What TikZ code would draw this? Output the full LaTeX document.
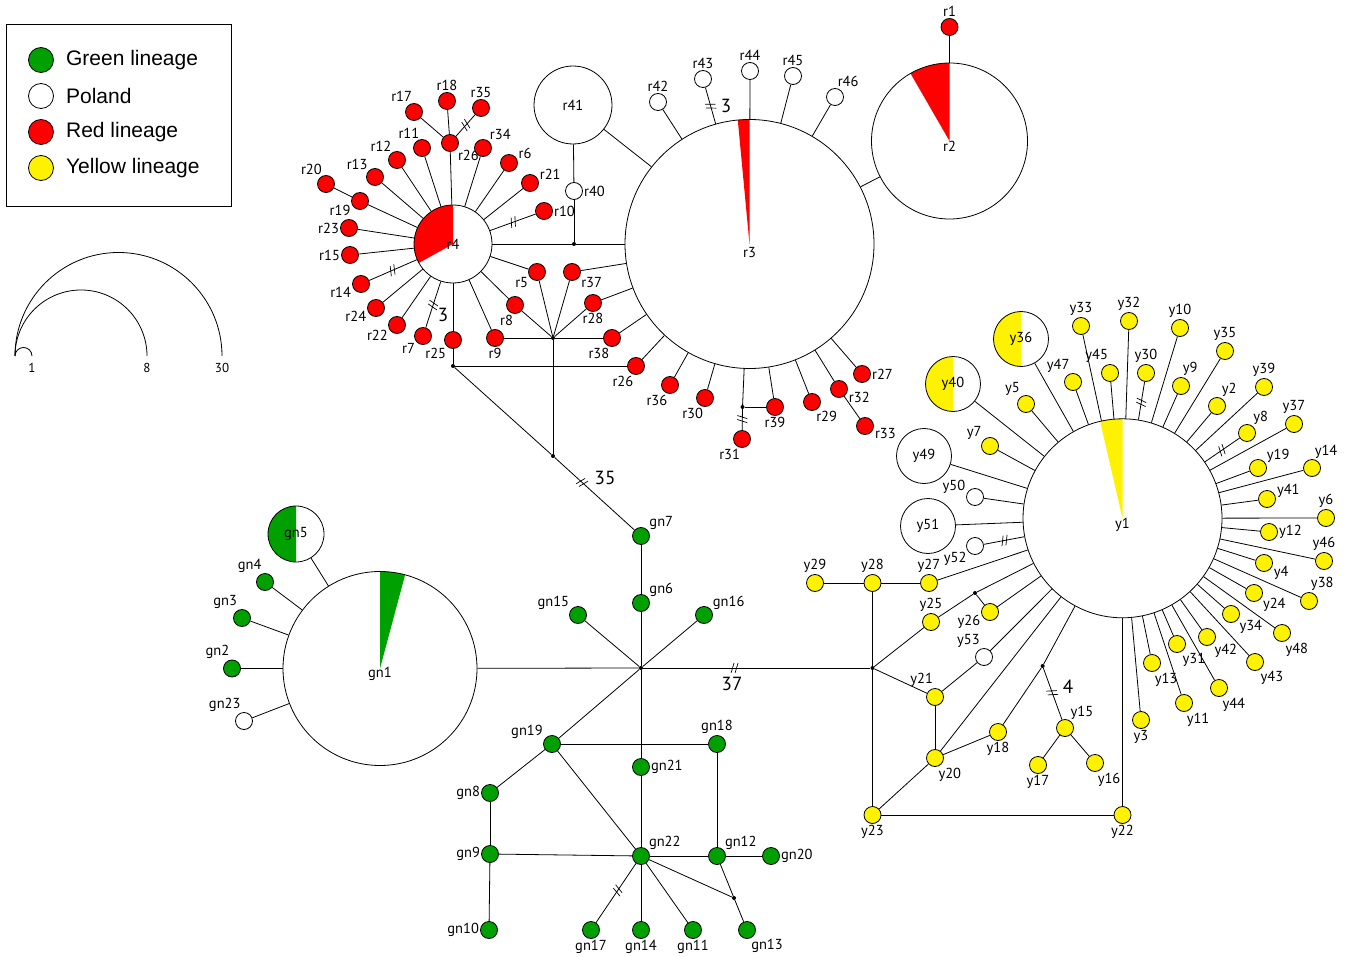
\documentclass[tikz,border=0pt]{standalone}
\usepackage{fontspec}
\setmainfont{PT Sans}
\newfontfamily\legfont{Liberation Sans}
\usetikzlibrary{decorations.markings}
\definecolor{lgreen}{RGB}{0,160,0}
\newcommand\lblfont{\fontsize{14.5}{14.5}\selectfont}
\tikzset{
	hap/.style={circle, draw, line width=0.8pt, inner sep=0pt, minimum size=17pt, fill=white, font=\lblfont},
	rhap/.style={hap, fill=red},
	ghap/.style={hap, fill=lgreen},
	yhap/.style={hap, fill=yellow},
	bighap/.style={hap, minimum size=#1},
	pie/.style 2 args={path picture={\fill[#2] (path picture bounding box.center) -- +(90:400pt) -- +({(90+#1)/2}:400pt) -- +(#1:400pt) -- cycle;}},
	lbl/.style={font=\lblfont, inner sep=1pt},
	dot/.style={circle, fill=black, inner sep=0pt, minimum size=4pt},
	num/.style={font=\fontsize{19}{19}\selectfont, inner sep=0pt},
	legc/.style={hap, minimum size=25pt},
	legtxt/.style={font=\legfont\fontsize{21}{21}\selectfont, inner sep=0pt, xshift=12pt},
	slashes/.style={postaction={decorate, decoration={markings, mark=at position #1 with {\draw[line width=0.7pt] (-3pt,-5pt) -- (0pt,5pt) (1pt,-5pt) -- (4pt,5pt);}}}},
	link/.style={draw=black, line width=0.8pt}
}
\begin{document}
\begin{tikzpicture}[x=1pt, y=-1pt]
	\useasboundingbox (0,0) rectangle (1346,957);

	% legend
	\node[draw, line width=0.8pt, minimum width=225pt, minimum height=182pt] (legbox) at (118.5,115) {};
	\node[legc, fill=lgreen, label={[legtxt]0:Green lineage}] (legG) at (41,60) {};
	\node[legc, label={[legtxt]0:Poland}] (legP) at (41,96) {};
	\node[legc, fill=red, label={[legtxt]0:Red lineage}] (legR) at (41,132) {};
	\node[legc, fill=yellow, label={[legtxt]0:Yellow lineage}] (legY) at (41,168) {};

	% size scale
	\coordinate (scl) at (15,356);
	\draw[line width=0.8pt] (scl) arc[start angle=180, end angle=0, radius=8.5pt];
	\draw[line width=0.8pt] (scl) arc[start angle=180, end angle=0, radius=66pt];
	\draw[line width=0.8pt] (scl) arc[start angle=180, end angle=0, radius=103.5pt];
	\node[font=\fontsize{13}{13}\selectfont] (s1) at (32,368) {1};
	\node[font=\fontsize{13}{13}\selectfont] (s8) at (147,368) {8};
	\node[font=\fontsize{13}{13}\selectfont] (s30) at (222,368) {30};

	% red lineage
	\node[bighap=78pt, pie={209}{red}] (r4) at (453,244) {r4};
	\node[bighap=78pt] (r41) at (573,105) {r41};
	\node[bighap=249pt, pie={95.4}{red}, label={[lbl,yshift=-9pt]center:r3}] (r3) at (749.5,244) {};
	\node[bighap=156pt, pie={120}{red}, label={[lbl,yshift=-5pt]center:r2}] (r2) at (949.5,141) {};
	\begin{scope}[every label/.style={lbl}]
		\node[rhap, label=95:r17] (r17) at (414,112) {};
		\node[rhap, label=90:r18] (r18) at (447,101) {};
		\node[rhap, label=90:r35] (r35) at (481,108) {};
		\node[rhap, label=-40:r26] (r26a) at (450,143) {};
		\node[rhap, label=100:r11] (r11) at (422,148) {};
		\node[rhap, label=120:r12] (r12) at (397,160) {};
		\node[rhap, label=135:r13] (r13) at (375,177) {};
		\node[rhap, label=110:r20] (r20) at (326,184) {};
		\node[rhap, label=200:r19] (r19) at (360,201) {};
		\node[rhap, label=180:r23] (r23) at (349,228) {};
		\node[rhap, label=180:r15] (r15) at (350,255) {};
		\node[rhap, label=190:r14] (r14) at (361,284) {};
		\node[rhap, label=195:r24] (r24) at (376,308) {};
		\node[rhap, label=205:r22] (r22) at (397,325) {};
		\node[rhap, label=220:r7] (r7) at (423,336) {};
		\node[rhap, label=230:r25] (r25) at (453,340) {};
		\node[rhap, label=270:r9] (r9) at (495,338) {};
		\node[rhap, label=265:r8] (r8) at (515,305) {};
		\node[rhap, label=210:r5] (r5) at (537,272) {};
		\node[rhap, label=-25:r37] (r37) at (572,272) {};
		\node[rhap, label=270:r28] (r28) at (593,303) {};
		\node[rhap, label=260:r38] (r38) at (612,338) {};
		\node[rhap, label=50:r34] (r34) at (483,148) {};
		\node[rhap, label=20:r6] (r6) at (509,163) {};
		\node[rhap, label=12:r21] (r21) at (530,183) {};
		\node[rhap, label=0:r10] (r10) at (544,211) {};
		\node[hap, label=0:r40] (r40) at (574,191) {};
		\node[rhap, label=260:r26] (r26b) at (636,366) {};
		\node[rhap, label=260:r36] (r36) at (670,385) {};
		\node[rhap, label=265:r30] (r30) at (705,398) {};
		\node[rhap, label=270:r39] (r39) at (775,407) {};
		\node[rhap, label=265:r31] (r31) at (742,439) {};
		\node[rhap, label=290:r29] (r29) at (812,402) {};
		\node[rhap, label=-10:r32] (r32) at (839,389) {};
		\node[rhap, label=-8:r33] (r33) at (865,426) {};
		\node[rhap, label=0:r27] (r27) at (862,374) {};
		\node[hap, label=90:r42] (r42) at (658,102) {};
		\node[hap, label=90:r43] (r43) at (703,79) {};
		\node[hap, label=90:r44] (r44) at (750,71) {};
		\node[hap, label=90:r45] (r45) at (793,76) {};
		\node[hap, label=80:r46] (r46) at (835,97) {};
		\node[rhap, label=90:r1] (r1) at (949.5,27) {};
	\end{scope}
	\node[dot] (jr40) at (574,244) {};
	\node[dot] (jr25) at (453,366) {};
	\node[dot] (jstar) at (553,338) {};
	\node[dot] (jmid) at (553,456) {};
	\node[dot] (jr31) at (742.5,407) {};

	% yellow lineage
	\node[bighap=199pt, pie={103}{yellow}, label={[lbl,yshift=-7pt]center:y1}] (y1) at (1122.5,518.3) {};
	\node[bighap=55pt, pie={270}{yellow}] (y36) at (1021,339) {y36};
	\node[bighap=55pt, pie={270}{yellow}] (y40) at (953,384) {y40};
	\node[bighap=55pt] (y49) at (924,456) {y49};
	\node[bighap=55pt] (y51) at (928,526) {y51};
	\begin{scope}[every label/.style={lbl}]
		\node[hap, label=165:y50] (y50) at (975,497) {};
		\node[hap, label=215:y52] (y52) at (975,546) {};
		\node[yhap, label=125:y5] (y5) at (1026,404) {};
		\node[yhap, label=145:y7] (y7) at (990,446) {};
		\node[yhap, label=105:y47] (y47) at (1073,382) {};
		\node[yhap, label=90:y33] (y33) at (1081,326) {};
		\node[yhap, label=95:y45] (y45) at (1110,373) {};
		\node[yhap, label=90:y32] (y32) at (1129,321) {};
		\node[yhap, label=90:y30] (y30) at (1146,373) {};
		\node[yhap, label=90:y10] (y10) at (1180,328) {};
		\node[yhap, label=85:y9] (y9) at (1181,386) {};
		\node[yhap, label=90:y35] (y35) at (1225,351) {};
		\node[yhap, label=65:y2] (y2) at (1217,406) {};
		\node[yhap, label=90:y39] (y39) at (1264,387) {};
		\node[yhap, label=55:y8] (y8) at (1247,433) {};
		\node[yhap, label=90:y37] (y37) at (1294,424) {};
		\node[yhap, label=30:y19] (y19) at (1258,468) {};
		\node[yhap, label=80:y14] (y14) at (1312,468) {};
		\node[yhap, label=5:y41] (y41) at (1267,499) {};
		\node[yhap, label=90:y6] (y6) at (1326,518) {};
		\node[yhap, label=0:y12] (y12) at (1269,532) {};
		\node[yhap, label=90:y46] (y46) at (1324,561) {};
		\node[yhap, label=-15:y4] (y4) at (1264,563) {};
		\node[yhap, label=-28:y24] (y24) at (1254,593) {};
		\node[yhap, label=85:y38] (y38) at (1309,601) {};
		\node[yhap, label=-35:y34] (y34) at (1231,614) {};
		\node[yhap, label=-75:y48] (y48) at (1282,633) {};
		\node[yhap, label=-45:y42] (y42) at (1207,637) {};
		\node[yhap, label=-60:y43] (y43) at (1255,662) {};
		\node[yhap, label=-60:y31] (y31) at (1177,644) {};
		\node[yhap, label=-75:y44] (y44) at (1219,688) {};
		\node[yhap, label=-80:y13] (y13) at (1152,663) {};
		\node[yhap, label=-80:y11] (y11) at (1184,703) {};
		\node[yhap, label=270:y3] (y3) at (1141,720) {};
		\node[yhap, label=90:y29] (y29) at (815,583) {};
		\node[yhap, label=90:y28] (y28) at (872.5,583) {};
		\node[yhap, label=90:y27] (y27) at (929,583) {};
		\node[yhap, label=90:y25] (y25) at (931,622) {};
		\node[yhap, label=195:y26] (y26) at (990,612) {};
		\node[hap, label=110:y53] (y53) at (984,657) {};
		\node[yhap, label=95:y21] (y21) at (935,697) {};
		\node[yhap, label=-75:y20] (y20) at (935,758) {};
		\node[yhap, label=270:y18] (y18) at (998,732) {};
		\node[yhap, label=60:y15] (y15) at (1065,728) {};
		\node[yhap, label=270:y17] (y17) at (1038,765) {};
		\node[yhap, label=-80:y16] (y16) at (1095,763) {};
		\node[yhap, label=270:y23] (y23) at (872.5,815) {};
		\node[yhap, label=270:y22] (y22) at (1122.5,815) {};
	\end{scope}
	\node[dot] (jy28) at (872.5,668) {};
	\node[dot] (jy25) at (975,593) {};
	\node[dot] (jy18) at (1042.6,666) {};

	% green lineage
	\node[bighap=194pt, pie={75}{lgreen}, label={[lbl,yshift=-5pt]center:gn1}] (gn1) at (380,668.5) {};
	\node[bighap=56pt, pie={270}{lgreen}] (gn5) at (296,534) {gn5};
	\begin{scope}[every label/.style={lbl}]
		\node[ghap, label=105:gn4] (gn4) at (265,582) {};
		\node[ghap, label=115:gn3] (gn3) at (242,618) {};
		\node[ghap, label=100:gn2] (gn2) at (232,668.5) {};
		\node[hap, label=105:gn23] (gn23) at (244,721) {};
		\node[ghap, label=35:gn7] (gn7) at (641,536) {};
		\node[ghap, label=35:gn6] (gn6) at (641,603) {};
		\node[ghap, label=150:gn15] (gn15) at (578,615) {};
		\node[ghap, label=30:gn16] (gn16) at (704,615) {};
		\node[ghap, label=155:gn19] (gn19) at (552,744) {};
		\node[ghap, label=90:gn18] (gn18) at (717,744) {};
		\node[ghap, label=0:gn21] (gn21) at (641,767) {};
		\node[ghap, label=180:gn8] (gn8) at (490,793) {};
		\node[ghap, label=180:gn9] (gn9) at (490,854) {};
		\node[ghap, label=40:gn22] (gn22) at (641,856) {};
		\node[ghap, label=40:gn12] (gn12) at (717,856) {};
		\node[ghap, label=0:gn20] (gn20) at (771,856) {};
		\node[ghap, label=180:gn10] (gn10) at (489,930) {};
		\node[ghap, label=270:gn17] (gn17) at (591,930) {};
		\node[ghap, label=270:gn14] (gn14) at (641,930) {};
		\node[ghap, label=270:gn11] (gn11) at (693,930) {};
		\node[ghap, label=-70:gn13] (gn13) at (747,930) {};
	\end{scope}
	\node[dot] (jg) at (641,668) {};
	\node[dot] (jg13) at (734,898) {};

	% mutation counts
	\node[num] (m3a) at (443,315) {3};
	\node[num] (m3b) at (726,106) {3};
	\node[num] (m35) at (605,478) {35};
	\node[num] (m37) at (732,684) {37};
	\node[num] (m4) at (1068,687) {4};

	\begin{scope}[every edge/.style={link}]
		% red
		\path (r17) edge (r26a);
		\path (r18) edge (r26a);
		\path (r26a) edge (r4);
		\path (r11) edge (r4);
		\path (r12) edge (r4);
		\path (r13) edge (r4);
		\path (r20) edge (r19);
		\path (r19) edge (r4);
		\path (r23) edge (r4);
		\path (r15) edge (r4);
		\path (r24) edge (r4);
		\path (r22) edge (r4);
		\path (r4) edge (r25);
		\path (r25) edge (jr25);
		\path (r4) edge (r9);
		\path (r4) edge (r8);
		\path (r4) edge (r5);
		\path (r34) edge (r4);
		\path (r6) edge (r4);
		\path (r21) edge (r4);
		\path (r4) edge (jr40);
		\path (jr40) edge (r3);
		\path (r41) edge (r40);
		\path (r40) edge (jr40);
		\path (r41) edge (r3);
		\path (r5) edge (jstar);
		\path (r8) edge (jstar);
		\path (r9) edge (jstar);
		\path (r37) edge (jstar);
		\path (r28) edge (jstar);
		\path (r38) edge (jstar);
		\path (r37) edge (r3);
		\path (r28) edge (r3);
		\path (r38) edge (r3);
		\path (jstar) edge (jmid);
		\path (jr25) edge (r26b);
		\path (r26b) edge (r3);
		\path (jr25) edge (jmid);
		\path (r36) edge (r3);
		\path (r30) edge (r3);
		\path (r3) edge (jr31);
		\path (jr31) edge (r39);
		\path (r39) edge (r3);
		\path (r29) edge (r3);
		\path (r32) edge (r3);
		\path (r32) edge (r33);
		\path (r27) edge (r3);
		\path (r42) edge (r3);
		\path (r44) edge (r3);
		\path (r45) edge (r3);
		\path (r46) edge (r3);
		\path (r1) edge (r2);
		\path (r2) edge (r3);
		% yellow
		\path (y36) edge (y1);
		\path (y40) edge (y1);
		\path (y49) edge (y1);
		\path (y51) edge (y1);
		\path (y50) edge (y1);
		\path (y5) edge (y1);
		\path (y7) edge (y1);
		\path (y47) edge (y1);
		\path (y33) edge (y1);
		\path (y45) edge (y1);
		\path (y32) edge (y1);
		\path (y10) edge (y1);
		\path (y9) edge (y1);
		\path (y35) edge (y1);
		\path (y2) edge (y1);
		\path (y39) edge (y1);
		\path (y37) edge (y1);
		\path (y19) edge (y1);
		\path (y14) edge (y1);
		\path (y41) edge (y1);
		\path (y6) edge (y1);
		\path (y12) edge (y1);
		\path (y46) edge (y1);
		\path (y4) edge (y1);
		\path (y24) edge (y1);
		\path (y38) edge (y1);
		\path (y34) edge (y1);
		\path (y48) edge (y1);
		\path (y42) edge (y1);
		\path (y43) edge (y1);
		\path (y31) edge (y1);
		\path (y44) edge (y1);
		\path (y13) edge (y1);
		\path (y11) edge (y1);
		\path (y3) edge (y1);
		\path (y27) edge (y1);
		\path (y29) edge (y28);
		\path (y28) edge (y27);
		\path (y28) edge (jy28);
		\path (jy28) edge (y23);
		\path (jy28) edge (y25);
		\path (jy28) edge (y21);
		\path (y25) edge (jy25);
		\path (jy25) edge (y1);
		\path (jy25) edge (y26);
		\path (y26) edge (y1);
		\path (y21) edge (y53);
		\path (y53) edge (y1);
		\path (y21) edge (y20);
		\path (y20) edge (y1);
		\path (y20) edge (y18);
		\path (y18) edge (jy18);
		\path (jy18) edge (y1);
		\path (y15) edge (y17);
		\path (y15) edge (y16);
		\path (y20) edge (y23);
		\path (y23) edge (y22);
		\path (y22) edge (y1);
		% green
		\path (gn5) edge (gn1);
		\path (gn4) edge (gn1);
		\path (gn3) edge (gn1);
		\path (gn2) edge (gn1);
		\path (gn23) edge (gn1);
		\path (gn1) edge (jg);
		\path (gn7) edge (gn6);
		\path (gn6) edge (jg);
		\path (gn15) edge (jg);
		\path (gn16) edge (jg);
		\path (jg) edge (gn19);
		\path (jg) edge (gn21);
		\path (gn21) edge (gn22);
		\path (gn19) edge (gn18);
		\path (gn18) edge (gn12);
		\path (gn19) edge (gn8);
		\path (gn19) edge (gn22);
		\path (gn8) edge (gn9);
		\path (gn9) edge (gn22);
		\path (gn9) edge (gn10);
		\path (gn22) edge (gn12);
		\path (gn12) edge (gn20);
		\path (gn22) edge (gn14);
		\path (gn22) edge (gn11);
		\path (gn22) edge (jg13);
		\path (gn12) edge (jg13);
		\path (jg13) edge (gn13);
	\end{scope}

	% edges with several steps
	\draw[link, slashes=0.5] (r26a) -- (r35);
	\draw[link, slashes=0.5] (r4) -- (r10);
	\draw[link, slashes=0.5] (r4) -- (r14);
	\draw[link, slashes=0.5] (r4) -- (r7);
	\draw[link, slashes=0.45] (jr31) -- (r31);
	\draw[link, slashes=0.5] (r43) -- (r3);
	\draw[link, slashes=0.34] (jmid) -- (gn7);
	\draw[link, slashes=0.4] (jg) -- (jy28);
	\draw[link, slashes=0.5] (y52) -- (y1);
	\draw[link, slashes=0.53] (y30) -- (y1);
	\draw[link, slashes=0.5] (y8) -- (y1);
	\draw[link, slashes=0.47] (jy18) -- (y15);
	\draw[link, slashes=0.45] (gn22) -- (gn17);
\end{tikzpicture}
\end{document}
